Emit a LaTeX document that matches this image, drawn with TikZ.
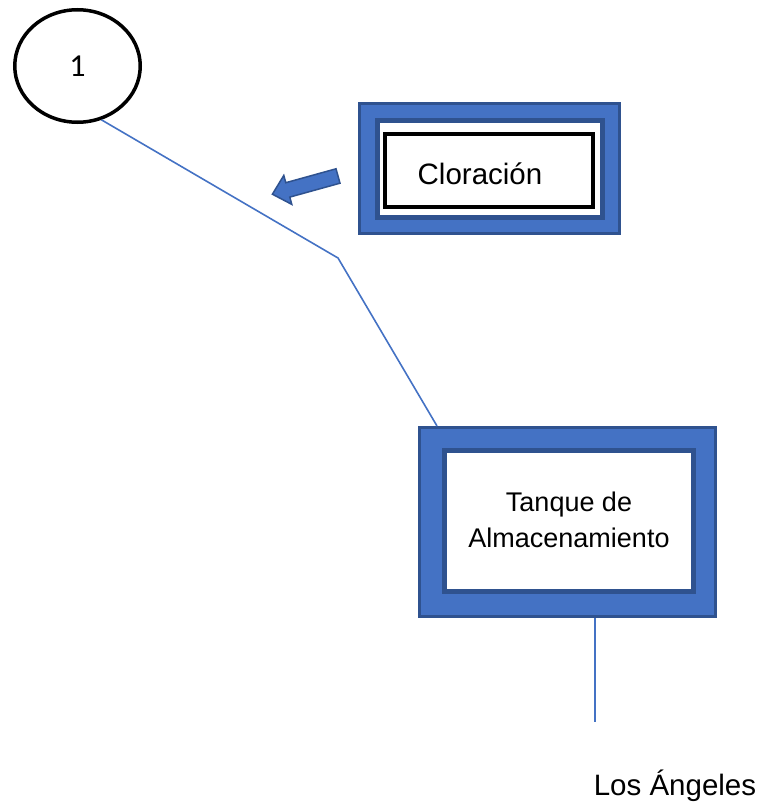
\documentclass[tikz,border=0pt]{standalone}
\usepackage{fontspec}
\setmainfont{Liberation Sans}
\newfontfamily\calibrifont{Carlito}
\usetikzlibrary{calc,shapes.geometric}
\definecolor{accent}{HTML}{4472C4}
\definecolor{accentdark}{HTML}{2F528F}

\begin{document}
\begin{tikzpicture}[x=1pt,y=-1pt,
  frame/.style={draw=accentdark, fill=accent, line width=3pt, inner sep=0pt},
  panel/.style={draw=accentdark, fill=white, line width=5pt, inner sep=0pt},
  pipe/.style={draw=accent, line width=1.6pt},
  bigtext/.style={inner sep=0pt, font=\fontsize{29.5}{35}\selectfont}]
\useasboundingbox (0,0) rectangle (762,808);

% start point
\node[draw=black, line width=3.5pt, ellipse, inner sep=0pt,
      minimum width=125.5pt, minimum height=112.5pt,
      font=\calibrifont\fontsize{32}{36}\selectfont] (c1) at (77.5,66) {1};

% chlorination unit
\node[frame, minimum width=260pt, minimum height=130pt] (clo-frame) at (489.5,168.5) {};
\node[panel, minimum width=225pt, minimum height=97pt] (clo-panel) at (490,169) {};
\node[draw=black, line width=4.5pt, fill=white, inner sep=0pt,
      minimum width=208pt, minimum height=73pt] (clo-box) at (489,170.5) {};
\node[bigtext, anchor=base] (clo-text) at (480,184) {Cloración};

% dosing arrow
\draw[fill=accent, draw=accentdark, line width=1.5pt, line join=miter]
  (340.0,183.2) -- (336.0,168.8) -- (285.8,182.7) -- (283.8,175.4)
  -- (272.4,194.2) -- (291.8,204.4) -- (289.8,197.1) -- cycle;

% storage tank
\node[frame, minimum width=296pt, minimum height=189pt] (tank-frame) at (567.5,522) {};
\node[panel, minimum width=249pt, minimum height=141pt] (tank-panel) at (569,521) {};
\node[inner sep=0pt, align=center, font=\fontsize{27}{36}\selectfont]
  (tank-text) at (569,520) {Tanque de\\Almacenamiento};

% destination
\node[bigtext, font=\fontsize{29.5}{35}\selectfont, anchor=base] (dest) at (675,795) {Los Ángeles};

% pipes
\coordinate (bend) at (338,258);
\coordinate (la) at (595,722);
\draw[pipe] (c1.-66) -- (bend) -- ([xshift=19pt]tank-frame.north west);
\draw[pipe] (la |- tank-frame.south) -- (la);
\end{tikzpicture}
\end{document}
